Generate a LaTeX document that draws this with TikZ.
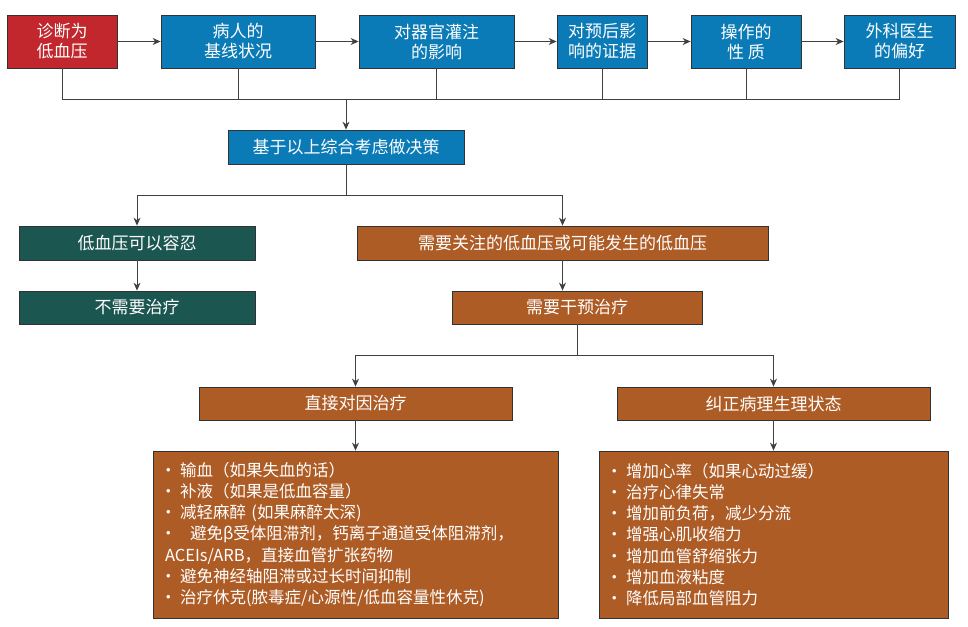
\documentclass[tikz,border=0pt]{standalone}
\usepackage{fontspec}
\setmainfont{Noto Sans CJK SC}
\usetikzlibrary{arrows.meta}
\definecolor{diagred}{HTML}{C1272D}
\definecolor{factblue}{HTML}{0A7BB6}
\definecolor{tolgreen}{HTML}{1B5651}
\definecolor{actbrown}{HTML}{AE5C26}
\def\dotitem{\makebox[15pt][l]{\hspace{-5pt}•}}
\tikzset{
	box/.style={draw=black!80, line width=0.8pt, text=white, align=center, inner sep=0pt, font=\fontsize{17}{20}\selectfont},
	listbox/.style={box, align=left, inner xsep=12pt, font=\fontsize{16.5}{21.2}\selectfont},
	link/.style={draw=black!75, line width=0.8pt},
	arr/.style={link, -{Stealth[length=8pt,width=7pt]}},
}

\begin{document}
\begin{tikzpicture}[x=1pt, y=-1pt]
		%%%%% START %%%%%
		\useasboundingbox (0, 0) rectangle (968, 626);
		
		\node[box, fill=diagred, minimum width=110, minimum height=53] (diag) at (62, 41.5) {诊断为\\低血压};
		\node[box, fill=factblue, minimum width=154, minimum height=53] (base) at (238, 41.5) {病人的\\基线状况};
		\node[box, fill=factblue, minimum width=155, minimum height=53] (organ) at (436.5, 41.5) {对器官灌注\\的影响};
		\node[box, fill=factblue, minimum width=90, minimum height=53] (prog) at (602, 41.5) {对预后影\\响的证据};
		\node[box, fill=factblue, minimum width=110, minimum height=53] (oper) at (746, 41.5) {操作的\\性 质};
		\node[box, fill=factblue, minimum width=111, minimum height=53] (pref) at (899.5, 41.5) {外科医生\\的偏好};
		
		\draw[arr] (diag) -- (base);
		\draw[arr] (base) -- (organ);
		\draw[arr] (organ) -- (prog);
		\draw[arr] (prog) -- (oper);
		\draw[arr] (oper) -- (pref);
		
		\node[box, fill=factblue, minimum width=236, minimum height=34] (decide) at (346, 147) {基于以上综合考虑做决策};
		\coordinate (bus) at (346, 99);
		\foreach \f in {diag, base, organ, prog, oper, pref}
			\draw[link] (\f.south) |- (bus);
		\draw[arr] (bus) -- (decide);
		
		\node[box, fill=tolgreen, minimum width=236, minimum height=34] (tol) at (137, 243) {低血压可以容忍};
		\node[box, fill=tolgreen, minimum width=236, minimum height=33] (notreat) at (137, 307.5) {不需要治疗};
		\node[box, fill=actbrown, minimum width=411, minimum height=34] (concern) at (562.5, 243) {需要关注的低血压或可能发生的低血压};
		\node[box, fill=actbrown, minimum width=250, minimum height=33] (interv) at (577, 307.5) {需要干预治疗};
		
		\coordinate (split) at (346, 195);
		\draw[link] (decide) -- (split);
		\draw[arr] (split) -| (tol);
		\draw[arr] (split) -| (concern);
		\draw[arr] (tol) -- (notreat);
		\draw[arr] (concern.south) -- (concern.south |- interv.north);
		
		\node[box, fill=actbrown, minimum width=313, minimum height=33] (cause) at (355.5, 403.5) {直接对因治疗};
		\node[box, fill=actbrown, minimum width=313, minimum height=33] (corr) at (773.5, 403.5) {纠正病理生理状态};
		
		\coordinate (fork) at (577, 355);
		\draw[link] (interv) -- (fork);
		\draw[arr] (fork) -| (cause);
		\draw[arr] (fork) -| (corr);
		
		\node[listbox, fill=actbrown, text width=381, minimum height=167] (causelist) at (355.5, 534.5) {\dotitem 输血（如果失血的话）\\
			\dotitem 补液（如果是低血容量）\\
			\dotitem 减轻麻醉 (如果麻醉太深)\\
			\dotitem\hspace{10pt}避免β受体阻滞剂，钙离子通道受体阻滞剂，\\
			ACEIs/ARB，直接血管扩张药物\\
			\dotitem 避免神经轴阻滞或过长时间抑制\\
			\dotitem 治疗休克(脓毒症/心源性/低血容量性休克)};
		\node[listbox, fill=actbrown, text width=325, minimum height=167] (corrlist) at (773.5, 534.5) {\dotitem 增加心率（如果心动过缓）\\
			\dotitem 治疗心律失常\\
			\dotitem 增加前负荷，减少分流\\
			\dotitem 增强心肌收缩力\\
			\dotitem 增加血管舒缩张力\\
			\dotitem 增加血液粘度\\
			\dotitem 降低局部血管阻力};
		
		\draw[arr] (cause) -- (causelist);
		\draw[arr] (corr) -- (corrlist);
		
		%%%%% END %%%%%
\end{tikzpicture}
\end{document}
